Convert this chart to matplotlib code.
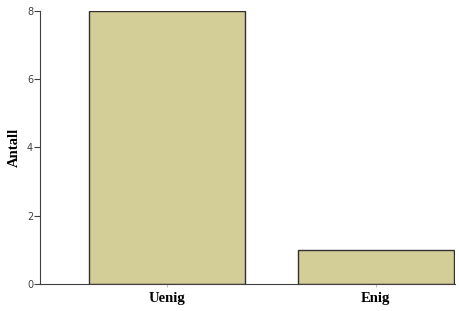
import matplotlib
matplotlib.use('Agg')
import matplotlib.pyplot as plt

# data
categories = ['Uenig', 'Enig']
counts = [8, 1]
yticks = [0, 2, 4, 6, 8]

fig = plt.figure(figsize=(4.6, 3.11), dpi=100)
ax = fig.add_axes([0.087, 0.087, 0.902, 0.878])

ax.bar(range(len(categories)), counts, width=0.75, color='#d3cd98',
       edgecolor='#303030', linewidth=1.0)

ax.set_xlim(-0.61, 1.38)
ax.set_ylim(0, 8)
ax.set_yticks(yticks)
ax.set_xticks(range(len(categories)))
ax.set_xticklabels(categories, family='Liberation Serif', fontweight='bold', fontsize=10.5)
ax.set_ylabel('Antall', family='Liberation Serif', fontweight='bold', fontsize=10.5, labelpad=4)

ax.spines['top'].set_visible(False)
ax.spines['right'].set_visible(False)
ax.spines['left'].set_color('#404040')
ax.spines['bottom'].set_color('#404040')
ax.tick_params(axis='y', labelsize=7, colors='#404040', length=4, pad=1)
ax.tick_params(axis='x', length=2, colors='#c0c0c0', labelcolor='black', pad=4)

fig.savefig('out.png', dpi=100)
